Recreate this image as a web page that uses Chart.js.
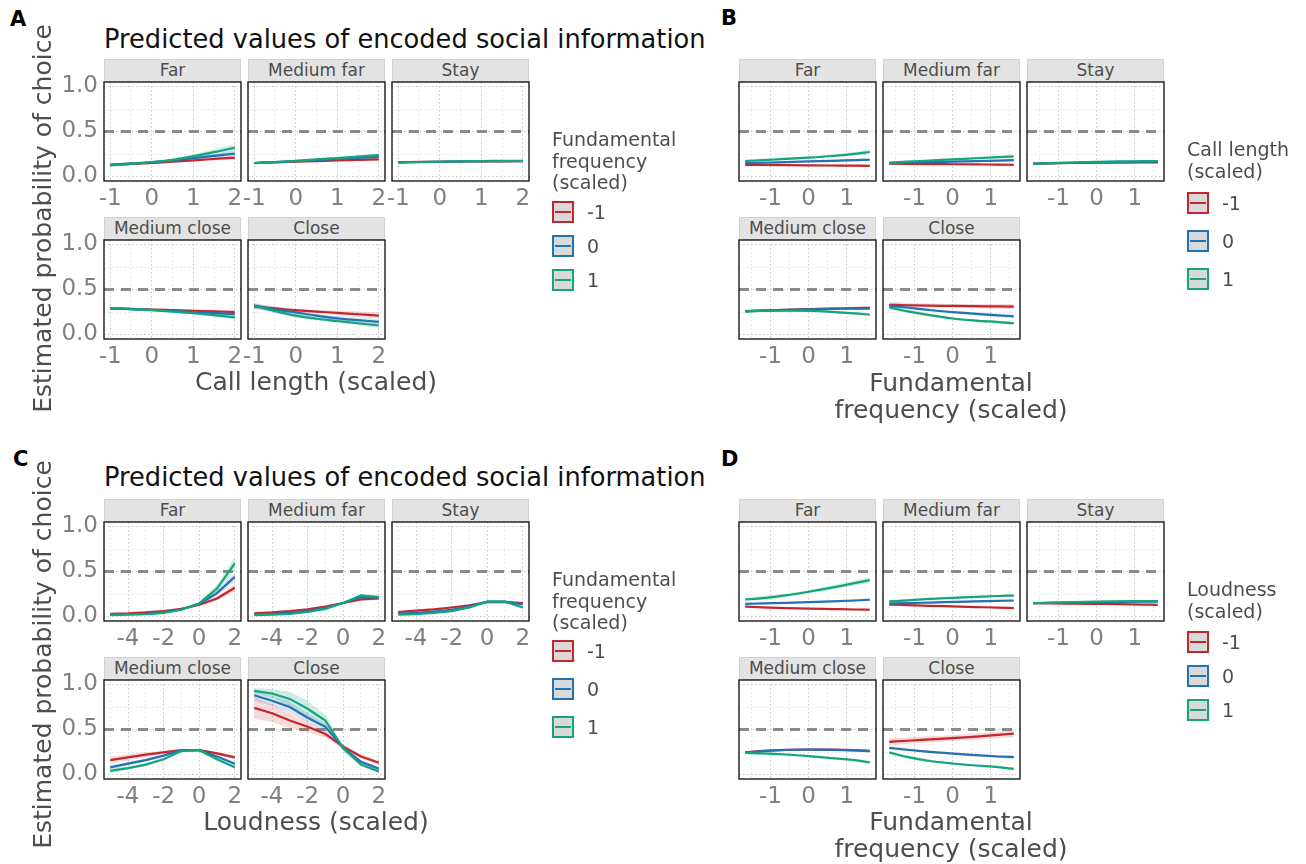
<!DOCTYPE html>
<html>
<head>
<meta charset="utf-8">
<script src="https://cdn.jsdelivr.net/npm/chart.js@4.4.1/dist/chart.umd.min.js"></script>
<style>
  html, body { margin: 0; padding: 0; background: #ffffff; }
  body { position: relative; width: 1306px; height: 864px; overflow: hidden; font-family: 'DejaVu Sans', sans-serif; }
  canvas { position: absolute; }
  .strip { position: absolute; background: #e3e3e3; border: 1px solid #d2d2d2; box-sizing: border-box;
           color: #4d4d4d; font-size: 17px; text-align: center; line-height: 21px; }
  .tag { position: absolute; font-weight: bold; font-size: 21px; color: #000; }
  .title { position: absolute; font-size: 25.7px; color: #111; white-space: nowrap; }
  .axt { position: absolute; font-size: 25px; color: #4d4d4d; white-space: nowrap; text-align: center; line-height: 27px; }
  .legt { position: absolute; font-size: 19px; color: #4d4d4d; line-height: 21.5px; white-space: nowrap; }
  .key { position: absolute; width: 22px; height: 22px; box-sizing: border-box; border: 2px solid; background: #d9d9d9; }
  .key i { position: absolute; left: 1px; right: 1px; top: 8px; height: 2px; }
  .keylab { position: absolute; font-size: 19px; color: #4d4d4d; line-height: 22px; }
</style>
</head>
<body>
<script>
// ---- facet order and legend levels ----
const facetLabels = ['Far', 'Medium far', 'Stay', 'Medium close', 'Close'];
const levelLabels = ['-1', '0', '1'];

// ---- x grids of the predictor in each figure ----
const xCallLength = [-1, -0.5, 0, 0.5, 1, 1.5, 2];
const xFundFreq = [-1.66, -1.2, -0.6, 0, 0.6, 1.2, 1.6];
const xLoudness = [-5, -4, -3, -2, -1, 0, 1, 2];

// ---- tick labels ----
const yTickLabels = ['0.0', '0.5', '1.0'];
const xTicksCallLength = [-1, 0, 1, 2];
const xTicksFundFreq = [-1, 0, 1];
const xTicksLoudness = [-4, -2, 0, 2];

// ---- A: call length, by fundamental frequency (-1, 0, 1) ----
const aFar      = [[0.13, 0.14, 0.15, 0.165, 0.18, 0.195, 0.21],
                   [0.13, 0.145, 0.16, 0.18, 0.205, 0.23, 0.255],
                   [0.125, 0.14, 0.16, 0.185, 0.225, 0.27, 0.32]];
const aMedFar   = [[0.15, 0.157, 0.164, 0.171, 0.178, 0.184, 0.19],
                   [0.15, 0.16, 0.171, 0.182, 0.194, 0.206, 0.218],
                   [0.148, 0.161, 0.175, 0.19, 0.205, 0.221, 0.237]];
const aStay     = [[0.16, 0.162, 0.164, 0.166, 0.168, 0.169, 0.17],
                   [0.158, 0.161, 0.164, 0.167, 0.169, 0.17, 0.171],
                   [0.155, 0.16, 0.165, 0.17, 0.172, 0.173, 0.174]];
const aMedClose = [[0.29, 0.284, 0.278, 0.271, 0.264, 0.257, 0.25],
                   [0.29, 0.282, 0.273, 0.262, 0.25, 0.238, 0.226],
                   [0.292, 0.282, 0.27, 0.254, 0.236, 0.215, 0.19]];
const aClose    = [[0.31, 0.29, 0.27, 0.255, 0.24, 0.225, 0.21],
                   [0.32, 0.28, 0.245, 0.21, 0.18, 0.16, 0.14],
                   [0.32, 0.26, 0.21, 0.175, 0.15, 0.125, 0.1]];
// confidence band half-widths
const aFarCI      = [[0.015, 0.012, 0.01, 0.011, 0.014, 0.018, 0.024],
                     [0.015, 0.012, 0.01, 0.012, 0.016, 0.021, 0.028],
                     [0.018, 0.014, 0.012, 0.015, 0.022, 0.032, 0.042]];
const aMedFarCI   = [[0.01, 0.008, 0.007, 0.007, 0.008, 0.01, 0.012],
                     [0.01, 0.008, 0.007, 0.008, 0.01, 0.012, 0.015],
                     [0.011, 0.009, 0.008, 0.009, 0.011, 0.014, 0.018]];
const aStayCI     = [[0.009, 0.008, 0.007, 0.007, 0.008, 0.009, 0.011],
                     [0.009, 0.008, 0.007, 0.007, 0.008, 0.009, 0.011],
                     [0.01, 0.008, 0.007, 0.008, 0.009, 0.01, 0.012]];
const aMedCloseCI = [[0.014, 0.012, 0.01, 0.011, 0.013, 0.016, 0.02],
                     [0.014, 0.012, 0.01, 0.011, 0.013, 0.016, 0.02],
                     [0.015, 0.012, 0.01, 0.012, 0.015, 0.019, 0.024]];
const aCloseCI    = [[0.03, 0.025, 0.02, 0.02, 0.025, 0.03, 0.035],
                     [0.03, 0.025, 0.02, 0.02, 0.022, 0.026, 0.03],
                     [0.03, 0.025, 0.02, 0.018, 0.02, 0.022, 0.025]];

// ---- B: fundamental frequency, by call length (-1, 0, 1) ----
const bFar      = [[0.13, 0.128, 0.126, 0.124, 0.122, 0.12, 0.119],
                   [0.148, 0.153, 0.16, 0.167, 0.174, 0.181, 0.186],
                   [0.172, 0.182, 0.195, 0.21, 0.228, 0.252, 0.272]];
const bMedFar   = [[0.144, 0.141, 0.138, 0.136, 0.134, 0.132, 0.13],
                   [0.148, 0.153, 0.159, 0.165, 0.171, 0.177, 0.181],
                   [0.155, 0.165, 0.178, 0.19, 0.203, 0.215, 0.222]];
const bStay     = [[0.142, 0.146, 0.15, 0.153, 0.155, 0.156, 0.156],
                   [0.142, 0.148, 0.153, 0.158, 0.162, 0.165, 0.166],
                   [0.142, 0.149, 0.156, 0.162, 0.167, 0.17, 0.172]];
const bMedClose = [[0.26, 0.267, 0.275, 0.283, 0.289, 0.293, 0.296],
                   [0.258, 0.265, 0.273, 0.28, 0.284, 0.286, 0.286],
                   [0.258, 0.262, 0.264, 0.262, 0.252, 0.235, 0.22]];
const bClose    = [[0.33, 0.325, 0.32, 0.318, 0.315, 0.312, 0.31],
                   [0.318, 0.3, 0.272, 0.248, 0.23, 0.213, 0.202],
                   [0.3, 0.26, 0.215, 0.178, 0.155, 0.138, 0.125]];
const bFarCI      = [[0.015, 0.012, 0.01, 0.009, 0.01, 0.012, 0.014],
                     [0.014, 0.011, 0.009, 0.009, 0.011, 0.014, 0.017],
                     [0.018, 0.015, 0.012, 0.012, 0.015, 0.02, 0.026]];
const bMedFarCI   = [[0.011, 0.009, 0.008, 0.008, 0.009, 0.01, 0.012],
                     [0.01, 0.008, 0.007, 0.007, 0.008, 0.01, 0.012],
                     [0.012, 0.01, 0.008, 0.008, 0.01, 0.012, 0.015]];
const bStayCI     = [[0.009, 0.008, 0.007, 0.007, 0.007, 0.008, 0.009],
                     [0.009, 0.008, 0.007, 0.007, 0.007, 0.008, 0.009],
                     [0.009, 0.008, 0.007, 0.007, 0.008, 0.009, 0.01]];
const bMedCloseCI = [[0.014, 0.012, 0.011, 0.011, 0.012, 0.014, 0.016],
                     [0.013, 0.011, 0.01, 0.01, 0.011, 0.012, 0.014],
                     [0.013, 0.011, 0.01, 0.01, 0.011, 0.013, 0.015]];
const bCloseCI    = [[0.03, 0.027, 0.024, 0.022, 0.024, 0.027, 0.03],
                     [0.02, 0.018, 0.015, 0.014, 0.016, 0.019, 0.022],
                     [0.022, 0.02, 0.016, 0.013, 0.013, 0.015, 0.017]];

// ---- C: loudness, by fundamental frequency (-1, 0, 1) ----
const cFar      = [[0.03, 0.035, 0.045, 0.06, 0.085, 0.13, 0.2, 0.32],
                   [0.02, 0.025, 0.03, 0.045, 0.08, 0.14, 0.26, 0.44],
                   [0.015, 0.02, 0.025, 0.04, 0.075, 0.145, 0.31, 0.59]];
const cMedFar   = [[0.035, 0.045, 0.06, 0.08, 0.11, 0.15, 0.19, 0.2],
                   [0.025, 0.03, 0.04, 0.06, 0.095, 0.15, 0.215, 0.21],
                   [0.015, 0.02, 0.03, 0.05, 0.085, 0.15, 0.235, 0.215]];
const cStay     = [[0.05, 0.065, 0.08, 0.1, 0.125, 0.16, 0.16, 0.15],
                   [0.03, 0.04, 0.055, 0.075, 0.11, 0.165, 0.165, 0.135],
                   [0.02, 0.025, 0.04, 0.06, 0.1, 0.165, 0.165, 0.1]];
const cMedClose = [[0.16, 0.19, 0.22, 0.245, 0.27, 0.27, 0.235, 0.19],
                   [0.08, 0.12, 0.16, 0.21, 0.27, 0.27, 0.2, 0.12],
                   [0.04, 0.07, 0.11, 0.17, 0.26, 0.27, 0.17, 0.08]];
const cClose    = [[0.74, 0.68, 0.6, 0.53, 0.45, 0.31, 0.2, 0.13],
                   [0.88, 0.82, 0.75, 0.63, 0.53, 0.3, 0.14, 0.065],
                   [0.93, 0.9, 0.84, 0.73, 0.6, 0.29, 0.11, 0.035]];
const cFarCI      = [[0.008, 0.008, 0.009, 0.01, 0.012, 0.016, 0.025, 0.04],
                     [0.006, 0.006, 0.007, 0.008, 0.01, 0.015, 0.03, 0.05],
                     [0.005, 0.005, 0.006, 0.007, 0.01, 0.018, 0.04, 0.07]];
const cMedFarCI   = [[0.01, 0.01, 0.01, 0.011, 0.012, 0.014, 0.016, 0.018],
                     [0.008, 0.008, 0.008, 0.009, 0.01, 0.012, 0.015, 0.017],
                     [0.006, 0.006, 0.007, 0.008, 0.01, 0.012, 0.016, 0.018]];
const cStayCI     = [[0.012, 0.012, 0.012, 0.012, 0.012, 0.012, 0.012, 0.013],
                     [0.01, 0.01, 0.01, 0.01, 0.011, 0.012, 0.012, 0.013],
                     [0.008, 0.008, 0.008, 0.009, 0.01, 0.012, 0.012, 0.014]];
const cMedCloseCI = [[0.04, 0.035, 0.028, 0.02, 0.015, 0.012, 0.015, 0.02],
                     [0.025, 0.02, 0.018, 0.015, 0.012, 0.01, 0.013, 0.02],
                     [0.02, 0.018, 0.016, 0.015, 0.012, 0.01, 0.013, 0.018]];
const cCloseCI    = [[0.12, 0.1, 0.08, 0.06, 0.04, 0.03, 0.025, 0.025],
                     [0.06, 0.06, 0.06, 0.05, 0.04, 0.03, 0.02, 0.015],
                     [0.03, 0.05, 0.08, 0.09, 0.06, 0.03, 0.02, 0.01]];

// ---- D: fundamental frequency, by loudness (-1, 0, 1) ----
const dFar      = [[0.11, 0.102, 0.094, 0.088, 0.083, 0.078, 0.075],
                   [0.14, 0.145, 0.152, 0.16, 0.168, 0.178, 0.186],
                   [0.19, 0.205, 0.235, 0.275, 0.32, 0.37, 0.405]];
const dMedFar   = [[0.133, 0.127, 0.119, 0.112, 0.105, 0.098, 0.093],
                   [0.144, 0.148, 0.155, 0.162, 0.168, 0.174, 0.178],
                   [0.167, 0.18, 0.195, 0.208, 0.219, 0.228, 0.233]];
const dStay     = [[0.148, 0.146, 0.143, 0.14, 0.137, 0.133, 0.13],
                   [0.148, 0.152, 0.156, 0.16, 0.163, 0.165, 0.166],
                   [0.148, 0.154, 0.16, 0.165, 0.169, 0.171, 0.172]];
const dMedClose = [[0.245, 0.262, 0.274, 0.278, 0.276, 0.27, 0.264],
                   [0.243, 0.26, 0.272, 0.276, 0.274, 0.268, 0.26],
                   [0.24, 0.235, 0.222, 0.204, 0.183, 0.16, 0.134]];
const dClose    = [[0.363, 0.375, 0.39, 0.405, 0.42, 0.44, 0.455],
                   [0.296, 0.275, 0.252, 0.233, 0.215, 0.2, 0.193],
                   [0.244, 0.195, 0.15, 0.122, 0.1, 0.082, 0.062]];
const dFarCI      = [[0.012, 0.01, 0.009, 0.008, 0.008, 0.009, 0.01],
                     [0.012, 0.01, 0.009, 0.009, 0.01, 0.012, 0.014],
                     [0.025, 0.022, 0.02, 0.02, 0.022, 0.026, 0.03]];
const dMedFarCI   = [[0.01, 0.009, 0.008, 0.008, 0.008, 0.009, 0.01],
                     [0.01, 0.009, 0.008, 0.008, 0.009, 0.01, 0.011],
                     [0.012, 0.01, 0.009, 0.009, 0.01, 0.011, 0.013]];
const dStayCI     = [[0.008, 0.007, 0.007, 0.007, 0.007, 0.008, 0.009],
                     [0.008, 0.007, 0.007, 0.007, 0.007, 0.008, 0.009],
                     [0.008, 0.007, 0.007, 0.007, 0.008, 0.009, 0.01]];
const dMedCloseCI = [[0.012, 0.01, 0.01, 0.01, 0.011, 0.012, 0.014],
                     [0.01, 0.009, 0.008, 0.008, 0.009, 0.01, 0.012],
                     [0.01, 0.009, 0.008, 0.008, 0.009, 0.01, 0.012]];
const dCloseCI    = [[0.04, 0.037, 0.034, 0.033, 0.035, 0.038, 0.042],
                     [0.02, 0.018, 0.016, 0.015, 0.016, 0.018, 0.02],
                     [0.02, 0.018, 0.015, 0.012, 0.011, 0.011, 0.012]];

// ---- styling ----
const FONT = "'DejaVu Sans', sans-serif";
const LINE_COLORS = ['#c1272d', '#2272b4', '#13a57c'];
const BAND_COLORS = ['rgba(193,39,45,0.17)', 'rgba(34,114,180,0.17)', 'rgba(19,165,124,0.20)'];
const PW = 137, PH = 99;      // panel size
const Y_MIN = -0.05, Y_MAX = 1.05;

// figure blocks: where each facet grid sits and which arrays feed it
const blocks = [
  { x: xCallLength, xTicks: xTicksCallLength, xMinor: [-0.5, 0.5, 1.5], xMin: -1.15, xMax: 2.15,
    cols: [104, 248, 392], tops: [82, 240], yLabels: true, smooth: true,
    fits: [aFar, aMedFar, aStay, aMedClose, aClose],
    bands: [aFarCI, aMedFarCI, aStayCI, aMedCloseCI, aCloseCI] },
  { x: xFundFreq, xTicks: xTicksFundFreq, xMinor: [-1.5, -0.5, 0.5, 1.5], xMin: -1.823, xMax: 1.763,
    cols: [739, 883, 1027], tops: [82, 240], yLabels: false, smooth: true,
    fits: [bFar, bMedFar, bStay, bMedClose, bClose],
    bands: [bFarCI, bMedFarCI, bStayCI, bMedCloseCI, bCloseCI] },
  { x: xLoudness, xTicks: xTicksLoudness, xMinor: [-5, -3, -1, 1], xMin: -5.35, xMax: 2.35,
    cols: [104, 248, 392], tops: [522, 680], yLabels: true, smooth: false,
    fits: [cFar, cMedFar, cStay, cMedClose, cClose],
    bands: [cFarCI, cMedFarCI, cStayCI, cMedCloseCI, cCloseCI] },
  { x: xFundFreq, xTicks: xTicksFundFreq, xMinor: [-1.5, -0.5, 0.5, 1.5], xMin: -1.823, xMax: 1.763,
    cols: [739, 883, 1027], tops: [522, 680], yLabels: false, smooth: true,
    fits: [dFar, dMedFar, dStay, dMedClose, dClose],
    bands: [dFarCI, dMedFarCI, dStayCI, dMedCloseCI, dCloseCI] }
];

// dashed reference at p = 0.5 and a black frame around each panel
const panelDecor = {
  id: 'panelDecor',
  beforeDatasetsDraw(chart) {
    const { ctx, chartArea: a, scales: { y } } = chart;
    const yy = y.getPixelForValue(0.5);
    ctx.save();
    ctx.strokeStyle = '#8a8a8a';
    ctx.lineWidth = 2.8;
    ctx.setLineDash([10, 7]);
    ctx.beginPath(); ctx.moveTo(a.left, yy); ctx.lineTo(a.right, yy); ctx.stroke();
    ctx.restore();
  },
  afterDatasetsDraw(chart) {
    const { ctx, chartArea: a } = chart;
    ctx.save();
    ctx.strokeStyle = '#1a1a1a';
    ctx.lineWidth = 1.4;
    ctx.strokeRect(a.left, a.top, a.right - a.left, a.bottom - a.top);
    ctx.restore();
  }
};

function addDiv(cls, text, style) {
  const d = document.createElement('div');
  d.className = cls;
  if (text !== null) d.textContent = text;
  Object.assign(d.style, style);
  document.body.appendChild(d);
  return d;
}

function makeFacet(b, idx) {
  const row = idx < 3 ? 0 : 1;
  const col = idx < 3 ? idx : idx - 3;
  const px = b.cols[col], py = b.tops[row];
  const showY = b.yLabels && col === 0;
  const yAxW = showY ? 60 : 0;
  // generous padding so overhanging tick labels never shrink the plot area
  const padL = 24, padR = 24, padT = 26, xAxH = 34;
  const W = padL + yAxW + PW + padR, H = padT + PH + xAxH;

  addDiv('strip', facetLabels[idx], { left: px + 'px', top: (py - 23) + 'px', width: PW + 'px', height: '23px' });

  const cv = document.createElement('canvas');
  cv.width = W; cv.height = H;
  Object.assign(cv.style, { left: (px - yAxW - padL) + 'px', top: (py - padT) + 'px', width: W + 'px', height: H + 'px' });
  document.body.appendChild(cv);

  const fits = b.fits[idx], bands = b.bands[idx];
  const curve = b.smooth ? { cubicInterpolationMode: 'monotone' } : { tension: 0 };
  const datasets = [];
  fits.forEach((fit, s) => {
    datasets.push(Object.assign({
      data: fit.map((v, k) => ({ x: b.x[k], y: v + bands[s][k] })),
      borderWidth: 0, pointRadius: 0, fill: false, order: 10
    }, curve));
    datasets.push(Object.assign({
      data: fit.map((v, k) => ({ x: b.x[k], y: v - bands[s][k] })),
      borderWidth: 0, pointRadius: 0, fill: '-1', backgroundColor: BAND_COLORS[s], order: 10
    }, curve));
  });
  fits.forEach((fit, s) => {
    datasets.push(Object.assign({
      data: fit.map((v, k) => ({ x: b.x[k], y: v })),
      borderColor: LINE_COLORS[s], borderWidth: 2.2, pointRadius: 0, fill: false, order: 3 - s
    }, curve));
  });

  const xAll = b.xTicks.concat(b.xMinor).sort((p, q) => p - q);
  const yAll = [0, 0.25, 0.5, 0.75, 1];
  const tickFont = { family: FONT, size: 23 };

  new Chart(cv, {
    type: 'line',
    data: { datasets },
    plugins: [panelDecor],
    options: {
      responsive: false, animation: false, events: [],
      layout: { padding: { left: padL, right: padR, top: padT, bottom: 0 } },
      plugins: { legend: { display: false }, tooltip: { enabled: false }, colors: { enabled: false } },
      scales: {
        x: {
          type: 'linear', min: b.xMin, max: b.xMax,
          afterBuildTicks: s => { s.ticks = xAll.map(v => ({ value: v })); },
          afterFit: s => { s.height = xAxH; },
          grid: { drawTicks: false, lineWidth: 1,
                  color: c => (b.xTicks.includes(c.tick.value) ? '#c4c4c4' : '#e4e4e4') },
          border: { display: false, dash: [1.5, 2.5] },
          ticks: { autoSkip: false, maxRotation: 0, padding: 4, color: '#808080', font: tickFont,
                   callback: v => (b.xTicks.includes(v) ? String(v) : '') }
        },
        y: {
          type: 'linear', min: Y_MIN, max: Y_MAX,
          afterBuildTicks: s => { s.ticks = yAll.map(v => ({ value: v })); },
          afterFit: s => { s.width = yAxW; },
          grid: { drawTicks: false, lineWidth: 1,
                  color: c => ([0, 0.5, 1].includes(c.tick.value) ? '#c4c4c4' : '#e4e4e4') },
          border: { display: false, dash: [1.5, 2.5] },
          ticks: { display: showY, autoSkip: false, padding: 6, color: '#808080', font: tickFont,
                   callback: v => (v === 0 ? yTickLabels[0] : v === 0.5 ? yTickLabels[1] : v === 1 ? yTickLabels[2] : '') }
        }
      }
    }
  });
}

blocks.forEach(b => facetLabels.forEach((_, i) => makeFacet(b, i)));

// ---- titles, axis titles and panel tags ----
const figTitle = 'Predicted values of encoded social information';
addDiv('tag', 'A', { left: '10px', top: '7px' });
addDiv('tag', 'B', { left: '721px', top: '6px' });
addDiv('tag', 'C', { left: '13px', top: '447px' });
addDiv('tag', 'D', { left: '721px', top: '447px' });
addDiv('title', figTitle, { left: '104px', top: '24px' });
addDiv('title', figTitle, { left: '104px', top: '462px' });

const yTitle = 'Estimated probability of choice';
[219, 655].forEach(cy => {
  addDiv('axt', yTitle, { left: (42 - 250) + 'px', top: (cy - 14) + 'px', width: '500px', transform: 'rotate(-90deg)' });
});
addDiv('axt', 'Call length (scaled)', { left: (316 - 200) + 'px', top: '368px', width: '400px' });
addDiv('axt', 'Loudness (scaled)', { left: (316 - 200) + 'px', top: '808px', width: '400px' });
addDiv('axt', 'Fundamental\nfrequency (scaled)', { left: (951 - 200) + 'px', top: '369px', width: '400px', whiteSpace: 'pre' });
addDiv('axt', 'Fundamental\nfrequency (scaled)', { left: (951 - 200) + 'px', top: '808px', width: '400px', whiteSpace: 'pre' });

// ---- legends ----
function legend(x, titleTop, title, keyCenters) {
  addDiv('legt', title, { left: x + 'px', top: titleTop + 'px', whiteSpace: 'pre' });
  keyCenters.forEach((cy, s) => {
    const k = addDiv('key', null, { left: x + 'px', top: (cy - 11) + 'px', borderColor: LINE_COLORS[s] });
    const bar = document.createElement('i');
    bar.style.background = LINE_COLORS[s];
    k.appendChild(bar);
    addDiv('keylab', levelLabels[s], { left: (x + 35) + 'px', top: (cy - 11) + 'px' });
  });
}
legend(552, 129, 'Fundamental\nfrequency\n(scaled)', [212, 246, 280]);
legend(1187, 139, 'Call length\n(scaled)', [203, 241, 279]);
legend(552, 569, 'Fundamental\nfrequency\n(scaled)', [651, 689, 727]);
legend(1187, 579, 'Loudness\n(scaled)', [642, 676, 710]);
</script>
</body>
</html>
